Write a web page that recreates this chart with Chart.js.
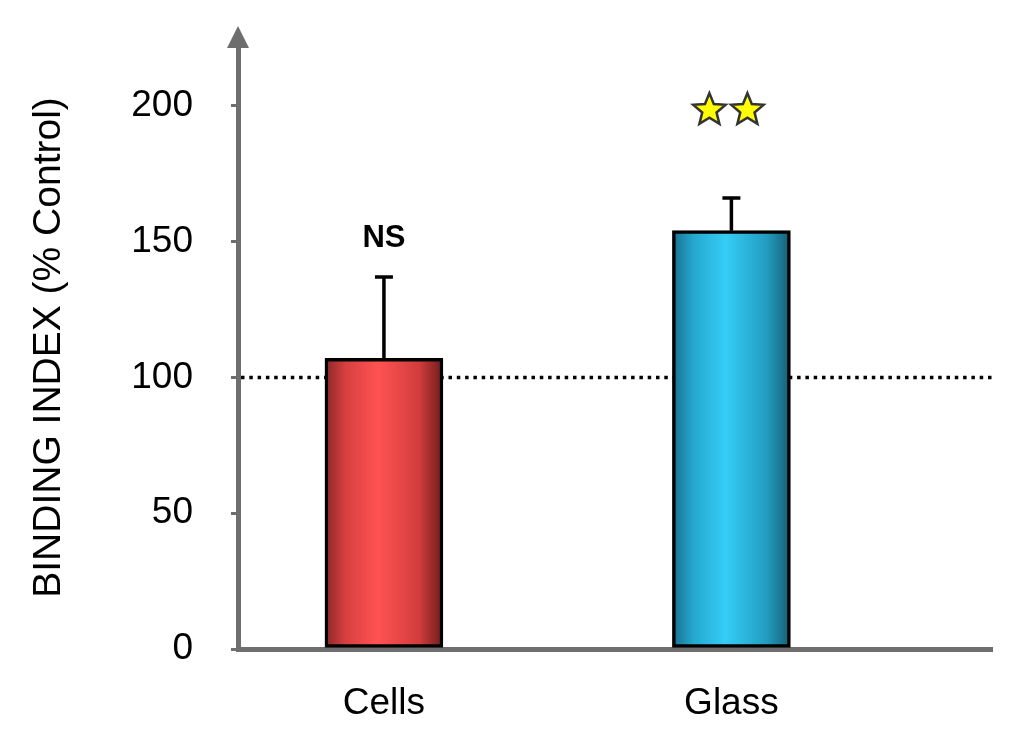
<!DOCTYPE html>
<html>
<head>
<meta charset="utf-8">
<script src="https://cdn.jsdelivr.net/npm/chart.js@4.4.1/dist/chart.umd.min.js"></script>
<style>
  html, body { margin: 0; padding: 0; background: #fff; }
  #wrap { width: 1024px; height: 741px; }
</style>
</head>
<body>
<div id="wrap"><canvas id="chart"></canvas></div>
<script>
// Data
const categories = ['Cells', 'Glass'];
const means = [107, 154];
const errUp = [30, 12];          // upper error bar (SEM)
const sigLabels = ['NS', '★★'];  // significance marks above bars
const refValue = 100;            // control level (dotted line)
const yTicks = [0, 50, 100, 150, 200];

const FONT = "'Liberation Sans', Arial, sans-serif";
const AXIS_GRAY = '#6e6e6e';
const BAR_W = 118;

// gradient stops per bar (dark edge -> bright center -> dark edge)
const barStops = [
    ['#8c2626', '#d94040', '#ff5252', '#d23c3c', '#6e1c1c'],
    ['#17708e', '#25a8d0', '#35cdf6', '#229cc0', '#145e74']
];

function barFill(c) {
    const chart = c.chart;
    const stops = barStops[c.dataIndex];
    if (!chart.chartArea) return stops[2];
    const cx = chart.scales.x.getPixelForValue(c.dataIndex + 1);
    const g = chart.ctx.createLinearGradient(cx - BAR_W / 2, 0, cx + BAR_W / 2, 0);
    g.addColorStop(0, stops[0]);
    g.addColorStop(0.18, stops[1]);
    g.addColorStop(0.45, stops[2]);
    g.addColorStop(0.8, stops[3]);
    g.addColorStop(1, stops[4]);
    return g;
}

function drawStar(ctx, cx, cy, rOut, rIn) {
    ctx.beginPath();
    for (let k = 0; k < 10; k++) {
        const r = k % 2 === 0 ? rOut : rIn;
        const a = -Math.PI / 2 + k * Math.PI / 5;
        const px = cx + r * Math.cos(a), py = cy + r * Math.sin(a);
        if (k === 0) ctx.moveTo(px, py); else ctx.lineTo(px, py);
    }
    ctx.closePath();
    ctx.fillStyle = '#ffff00';
    ctx.fill();
    ctx.lineWidth = 2.5;
    ctx.strokeStyle = '#333';
    ctx.stroke();
}

const decorPlugin = {
    id: 'decorPlugin',
    beforeDatasetsDraw: (chart) => {
        const {ctx, chartArea: {left, right}, scales: {y}} = chart;
        const yp = y.getPixelForValue(refValue);
        ctx.save();
        ctx.strokeStyle = '#000';
        ctx.lineWidth = 3.5;
        ctx.setLineDash([3.5, 4.8]);
        ctx.beginPath();
        ctx.moveTo(left + 3, yp);
        ctx.lineTo(right, yp);
        ctx.stroke();
        ctx.restore();
    },
    afterDatasetsDraw: (chart) => {
        const {ctx, chartArea: {left, top}, scales: {x, y}} = chart;
        ctx.save();
        // error bars (upper only)
        ctx.strokeStyle = '#000';
        ctx.lineWidth = 3.5;
        means.forEach((m, i) => {
            const cx = x.getPixelForValue(i + 1);
            const y0 = y.getPixelForValue(m);
            const y1 = y.getPixelForValue(m + errUp[i]);
            ctx.beginPath();
            ctx.moveTo(cx, y0);
            ctx.lineTo(cx, y1);
            ctx.moveTo(cx - 9, y1);
            ctx.lineTo(cx + 9, y1);
            ctx.stroke();

            // significance marks
            const lab = sigLabels[i];
            if (lab.indexOf('★') >= 0) {
                const n = lab.length;
                const sy = y1 - 88;
                for (let k = 0; k < n; k++) {
                    drawStar(ctx, cx - 19 * (n - 1) + 38 * k - 3, sy, 17, 7.5);
                }
            } else {
                ctx.fillStyle = '#000';
                ctx.font = 'bold 31px ' + FONT;
                ctx.textAlign = 'center';
                ctx.textBaseline = 'middle';
                ctx.fillText(lab, cx, y1 - 38);
            }
        });
        // arrow head on the y axis
        ctx.fillStyle = AXIS_GRAY;
        ctx.beginPath();
        ctx.moveTo(left - 11, top + 2);
        ctx.lineTo(left + 11, top + 2);
        ctx.lineTo(left, top - 20);
        ctx.closePath();
        ctx.fill();
        ctx.restore();
    }
};

const canvas = document.getElementById('chart');
const chart = new Chart(canvas.getContext('2d'), {
    type: 'bar',
    data: {
        datasets: [{
            data: means.map((m, i) => ({x: i + 1, y: m})),
            backgroundColor: barFill,
            borderColor: '#000',
            borderWidth: 3.5,
            borderSkipped: false,
            barThickness: BAR_W
        }]
    },
    options: {
        responsive: true,
        maintainAspectRatio: false,
        animation: false,
        layout: {padding: {left: 12, right: 32, top: 46, bottom: 10}},
        plugins: {
            legend: {display: false},
            tooltip: {enabled: false}
        },
        scales: {
            x: {
                type: 'linear',
                min: 0.58,
                max: 2.75,
                offset: false,
                bounds: 'data',
                z: 1,
                grid: {display: false},
                border: {color: AXIS_GRAY, width: 5},
                afterBuildTicks: (s) => { s.ticks = categories.map((c, i) => ({value: i + 1})); },
                afterFit: (s) => { s.height = 82; s.paddingLeft = 0; s.paddingRight = 0; },
                ticks: {
                    padding: 25,
                    color: '#000',
                    font: {family: FONT, size: 37},
                    callback: (v) => categories[v - 1]
                }
            },
            y: {
                min: 0,
                max: 222,
                z: 1,
                grid: {drawOnChartArea: false, color: AXIS_GRAY, lineWidth: 3, tickLength: 7},
                border: {color: AXIS_GRAY, width: 5},
                afterBuildTicks: (s) => { s.ticks = yTicks.map(v => ({value: v})); },
                afterFit: (s) => { s.width = 226; s.paddingTop = 0; s.paddingBottom = 0; },
                ticks: {
                    padding: 38,
                    color: '#000',
                    font: {family: FONT, size: 37}
                },
                title: {
                    display: true,
                    text: 'BINDING INDEX (% Control)',
                    color: '#000',
                    font: {family: FONT, size: 39},
                    padding: {top: 14, bottom: 0}
                }
            }
        }
    },
    plugins: [decorPlugin]
});
</script>
</body>
</html>
